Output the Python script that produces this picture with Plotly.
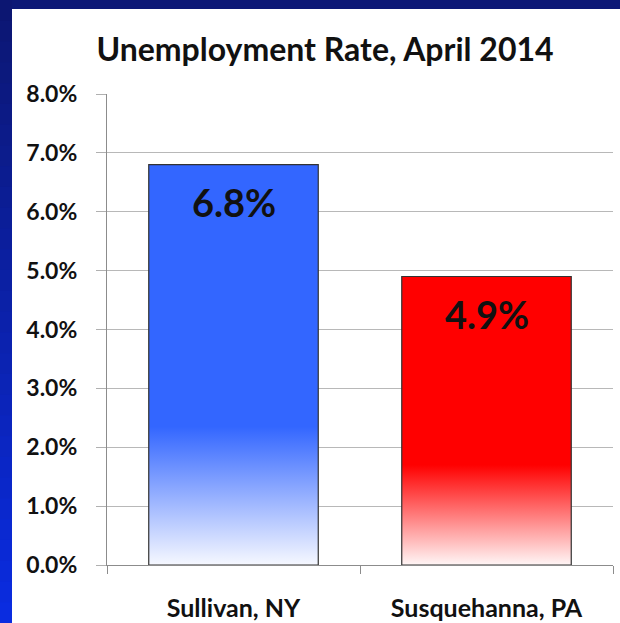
import plotly.graph_objects as go

# data
counties = ["Sullivan, NY", "Susquehanna, PA"]
rates = [6.8, 4.9]
rate_labels = ["6.8%", "4.9%"]
y_ticks = [0, 1, 2, 3, 4, 5, 6, 7, 8]

# styles
bar_colors = ["#3366ff", "#ff0000"]
fade_colors = ["#f6f8ff", "#fff6f6"]
fade_top = [2.35, 1.7]  # where the solid colour starts (in % units)
bar_width = 0.67
FONT = "Lato"

W, H = 620, 623
L, R, T, B = 107, 7, 94, 58
pw, ph = W - L - R, H - T - B

fig = go.Figure()

# gradient bars, drawn as filled rectangles on a numeric x axis
for i, (name, val) in enumerate(zip(counties, rates)):
    x0, x1 = i - bar_width / 2, i + bar_width / 2
    f = fade_top[i] / val
    fig.add_trace(go.Scatter(
        x=[x0, x0, x1, x1, x0], y=[0, val, val, 0, 0],
        mode="lines", fill="toself",
        fillgradient=dict(type="vertical", start=0, stop=val,
                          colorscale=[[0, fade_colors[i]], [f, bar_colors[i]], [1, bar_colors[i]]]),
        line=dict(color="#333333", width=1.2),
        name=name, showlegend=False, hoverinfo="skip",
    ))

for i, (val, lab) in enumerate(zip(rates, rate_labels)):
    fig.add_annotation(x=i, y=val, yshift=-37, text="<b>%s</b>" % lab, showarrow=False,
                       font=dict(family=FONT, size=38, color="#111111"), yanchor="middle")

# background: navy frame (top + left) around a white panel
def px_x(p):
    return (p - L) / pw

def px_y(p):
    return (H - B - p) / ph

shapes = [dict(type="rect", xref="paper", yref="paper", layer="below",
               x0=px_x(-5), x1=px_x(W + 5), y0=px_y(9), y1=px_y(-5),
               fillcolor="rgb(12,24,118)", line=dict(width=0))]
n = 30
c0, c1 = (12, 22, 112), (10, 44, 226)
for k in range(n):
    t = (k + 0.5) / n
    col = "rgb(%d,%d,%d)" % tuple(round(a + (b - a) * t) for a, b in zip(c0, c1))
    shapes.append(dict(type="rect", xref="paper", yref="paper", layer="below",
                       x0=px_x(-5), x1=px_x(12), y0=px_y(H * (k + 1) / n + 1),
                       y1=px_y(H * k / n), fillcolor=col, line=dict(width=0)))

fig.update_layout(
    width=W, height=H,
    margin=dict(l=L, r=R, t=T, b=B),
    paper_bgcolor="white",
    plot_bgcolor="white",
    shapes=shapes,
    title=dict(text="<b>Unemployment Rate, April 2014</b>", x=325 / W, xanchor="center",
               y=1 - 50 / H, yanchor="middle",
               font=dict(family=FONT, size=32, color="#111111")),
    font=dict(family=FONT, color="#111111"),
)

fig.update_xaxes(
    range=[-0.5, 1.5], tickmode="array", tickvals=[0, 1],
    ticktext=["<b>%s</b>" % c for c in counties],
    ticks="", showgrid=False, zeroline=False, automargin=False,
    showline=True, linecolor="#8c8c8c", linewidth=1.2,
    minor=dict(tick0=-0.5, dtick=1, ticks="outside", ticklen=8, tickcolor="#8c8c8c", showgrid=False),
    tickfont=dict(family=FONT, size=25, color="#111111"),
    ticklabelstandoff=21,
)
fig.update_yaxes(
    range=[0, 8], tickmode="array", tickvals=y_ticks,
    ticktext=["<b>%.1f%%</b>" % v for v in y_ticks],
    showgrid=True, gridcolor="#b8b8b8", gridwidth=1.2, zeroline=False, automargin=False,
    showline=True, linecolor="#8c8c8c", linewidth=1.2,
    ticks="outside", ticklen=10, tickcolor="#b0b0b0",
    tickfont=dict(family=FONT, size=23, color="#111111"),
    ticklabelstandoff=14,
)

fig.write_html("out.html", config={"displayModeBar": False},
               post_script="document.body.style.margin='0px';")
